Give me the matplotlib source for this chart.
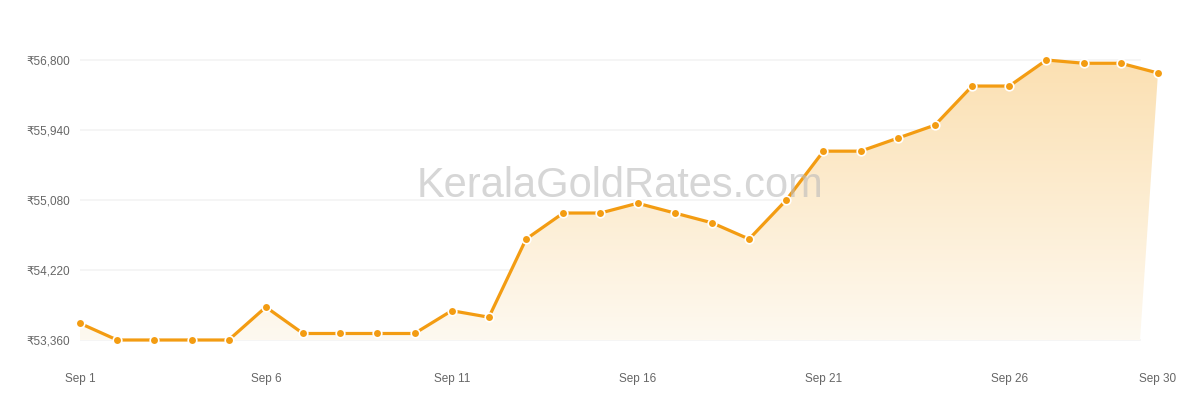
import numpy as np
import matplotlib.pyplot as plt
from matplotlib.path import Path
from matplotlib.patches import PathPatch

plt.rcParams['font.family'] = ['Liberation Sans', 'DejaVu Sans']

# gold rate per 8 g (22K), September
days = list(range(1, 31))
rates = [53565, 53360, 53360, 53360, 53360, 53765, 53440, 53440, 53440, 53440,
         53720, 53640, 54600, 54920, 54920, 55040, 54920, 54800, 54600, 55080,
         55680, 55680, 55840, 56000, 56480, 56480, 56800, 56760, 56760, 56640]
y_ticks = [53360, 54220, 55080, 55940, 56800]
x_ticks = [1, 6, 11, 16, 21, 26, 30]
x_labels = ["Sep %d" % d for d in x_ticks]

W, H = 1200, 400
fig = plt.figure(figsize=(12, 4), dpi=100)

# pixel geometry of the plot area
px_left, px_right = 80, 1170
px_top, px_bottom = 40, 352
ax = fig.add_axes([px_left / W, 1 - px_bottom / H,
                   (px_right - px_left) / W, (px_bottom - px_top) / H])

day_px = (1158 - 80) / 29.0
val_px = 280.0 / 3440.0
ax.set_xlim(1, 1 + (px_right - px_left) / day_px)
ax.set_ylim(53360 - (px_bottom - 340) / val_px, 56800 + (60 - px_top) / val_px)
grid_end = 1 + (1140 - 80) / day_px

for s in ax.spines.values():
    s.set_visible(False)

# grid
for t in y_ticks:
    ax.plot([1, grid_end], [t, t], color="#f4f4f4", lw=1.2, zorder=0)

# gradient fill under the line
verts = list(zip(days, rates)) + [(grid_end, 53360), (1, 53360), (1, rates[0])]
codes = [Path.MOVETO] + [Path.LINETO] * (len(verts) - 2) + [Path.CLOSEPOLY]
patch = PathPatch(Path(verts, codes), facecolor="none", edgecolor="none")
ax.add_patch(patch)
grad = np.linspace(0, 1, 256).reshape(-1, 1)
top_c = np.array([251, 224, 178]) / 255.0
bot_c = np.array([254, 249, 240]) / 255.0
img = bot_c + (top_c - bot_c) * grad
img = img.reshape(256, 1, 3)
im = ax.imshow(img, origin="lower", aspect="auto",
               extent=[1, 31, 53360, 56800], zorder=1)
im.set_clip_path(patch)

# watermark
fig.text(620 / W, 1 - 186 / H, "KeralaGoldRates.com", fontsize=30,
         color="#bbbbbb", alpha=0.6, ha="center", va="center", zorder=2)

ax.plot(days, rates, color="#f39c12", lw=2.3, zorder=3, clip_on=False,
        marker="o", markersize=6.2, markerfacecolor="#f39c12",
        markeredgecolor="white", markeredgewidth=1.2)

ax.set_yticks(y_ticks)
ax.set_yticklabels(["₹{:,}".format(t) for t in y_ticks])
ax.set_xticks(x_ticks)
ax.set_xticklabels(x_labels)
ax.tick_params(axis="both", length=0, labelsize=8.5, labelcolor="#666666")
ax.tick_params(axis="y", pad=7)
ax.tick_params(axis="x", pad=15)

fig.savefig("out.png", dpi=100)
